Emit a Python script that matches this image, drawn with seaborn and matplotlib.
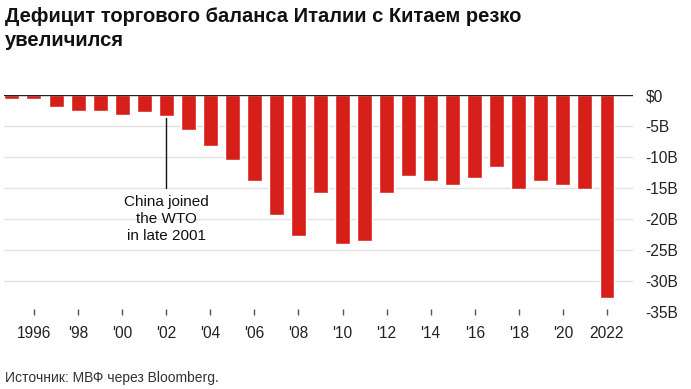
import numpy as np
import pandas as pd
import seaborn as sns
import matplotlib.pyplot as plt

years = list(range(1995, 2023))
deficit = [-0.7, -0.7, -1.9, -2.5, -2.5, -3.3, -2.8, -3.4, -5.6, -8.2,
           -10.5, -13.8, -19.4, -22.8, -15.8, -24.0, -23.5, -15.8, -13.0, -13.9,
           -14.5, -13.4, -11.6, -15.2, -13.9, -14.5, -15.2, -32.8]
tick_years = list(range(1996, 2023, 2))
tick_labels = ['1996'] + ["'%02d" % (y % 100) for y in tick_years[1:-1]] + ['2022']
y_ticks = [0, -5, -10, -15, -20, -25, -30, -35]
y_labels = ['$0'] + ['%dB' % v for v in y_ticks[1:]]

title = 'Дефицит торгового баланса Италии с Китаем резко\nувеличился'
source = 'Источник: МВФ через Bloomberg.'
note = 'China joined\nthe WTO\nin late 2001'

sns.set_style('white')
plt.rcParams['font.family'] = ['Liberation Sans', 'DejaVu Sans']

df = pd.DataFrame({'year': years, 'value': deficit})

fig = plt.figure(figsize=(6.91, 3.89), dpi=100)
ax = fig.add_axes([4 / 691, 1 - 312 / 389, 629 / 691, (312 - 95) / 389])

sns.barplot(data=df, x='year', y='value', color='#d61f18', saturation=1,
            width=0.68, ax=ax)

ax.set_xlim(-0.36, 28.18)
ax.set_ylim(-35, 0)

for v in y_ticks[1:-1]:
    ax.axhline(v, color='#e2e2e2', lw=1, zorder=0)
ax.axhline(0, color='#222222', lw=1, zorder=3)

sns.despine(ax=ax, left=True, right=True, top=True, bottom=True)

ax.set_xticks([years.index(y) for y in tick_years])
ax.set_xticklabels(tick_labels, fontsize=11.2, color='#222222')
ax.tick_params(axis='x', length=5, width=1, color='#555555', pad=10, direction='in')
ax.xaxis.set_ticks_position('bottom')
for t in ax.xaxis.get_major_ticks():
    t.tick1line.set_marker('|')
    t.tick1line.set_markersize(5)

ax.yaxis.tick_right()
ax.set_yticks(y_ticks)
ax.set_yticklabels(y_labels, fontsize=11.2, color='#222222')
ax.tick_params(axis='y', length=0, pad=9)
ax.set_xlabel('')
ax.set_ylabel('')

# annotation line from the 2002 bar down to the note
x02 = years.index(2002)
ax.plot([x02, x02], [-3.7, -15.0], color='#111111', lw=1)
ax.text(x02, -16.2, note, ha='center', va='top', fontsize=11,
        color='#111111', linespacing=1.27)

fig.text(5 / 691, 1 - 7 / 389, title, ha='left', va='top', fontsize=14.5,
         fontweight='bold', color='#111111', linespacing=1.3)
fig.text(5 / 691, 1 - 378 / 389, source, ha='left', va='center',
         fontsize=10, color='#333333')

fig.savefig('out.png', dpi=100)
